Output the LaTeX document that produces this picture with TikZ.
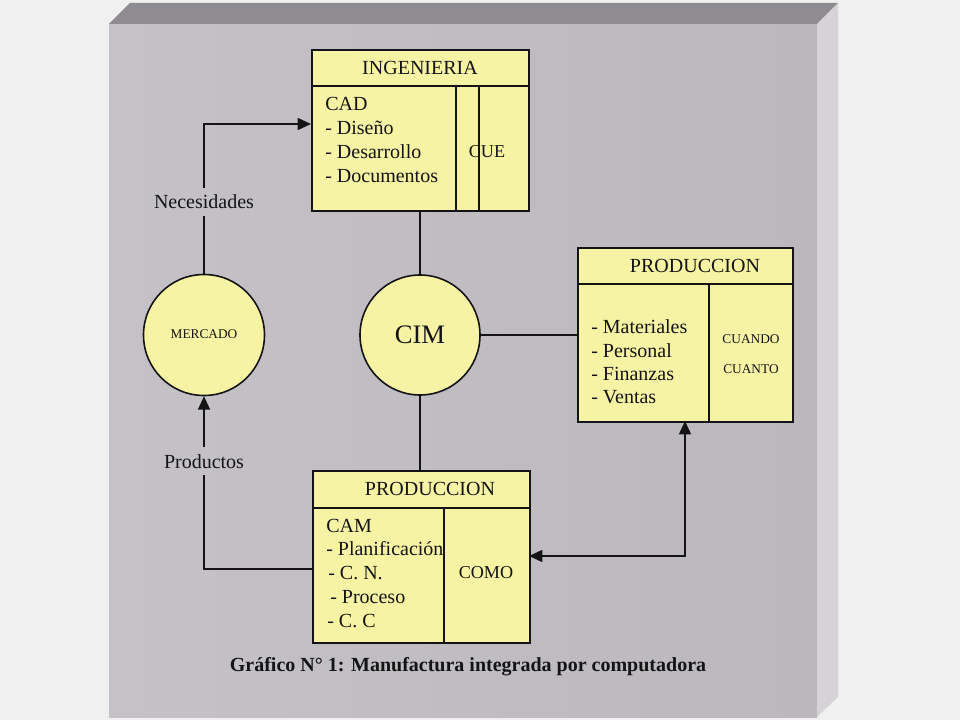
\documentclass[tikz,border=0pt]{standalone}
\usepackage{fontspec}
\setmainfont{Liberation Serif}
\usetikzlibrary{arrows.meta}
\definecolor{outerbg}{RGB}{240,240,240}
\definecolor{panelL}{RGB}{196,194,198}
\definecolor{panelR}{RGB}{186,184,188}
\definecolor{topbev}{RGB}{142,140,144}
\definecolor{rightbev}{RGB}{214,210,214}
\definecolor{boxfill}{RGB}{246,243,165}
\definecolor{ink}{RGB}{20,20,20}
\begin{document}
\begin{tikzpicture}[x=0.75pt,y=-0.75pt,
  box/.style={draw=ink, fill=boxfill, line width=1.2pt, inner sep=0pt, anchor=north west},
  inline/.style={draw=ink, line width=1.2pt},
  circ/.style={circle, draw=ink, fill=boxfill, line width=1.2pt, inner sep=0pt},
  itm/.style={font=\fontsize{15pt}{18pt}\selectfont, text=ink, inner sep=0pt, anchor=base west},
  hdr/.style={font=\fontsize{15pt}{18pt}\selectfont, text=ink, inner sep=0pt, anchor=base},
  small/.style={font=\fontsize{10pt}{12pt}\selectfont, text=ink, inner sep=0pt, anchor=base},
  mid/.style={font=\fontsize{13.6pt}{16pt}\selectfont, text=ink, inner sep=0pt, anchor=base},
  lbl/.style={font=\fontsize{15pt}{18pt}\selectfont, text=ink, inner sep=5pt, anchor=base},
  conn/.style={draw=ink, line width=1.2pt},
  tip/.style={-{Triangle[length=10pt,width=9pt]}},
  tips/.style={{Triangle[length=10pt,width=9pt]}-{Triangle[length=10pt,width=9pt]}}]

% background and 3D panel
\fill[outerbg] (0,0) rectangle (960,720);
\useasboundingbox (0,0) rectangle (960,720);
\shade[left color=panelL, right color=panelR] (109,24) rectangle (817,717);
\fill[topbev] (109,24) -- (130,3) -- (838,3) -- (817,24) -- cycle;
\fill[rightbev] (817,24) -- (838,3) -- (838,697) -- (817,717) -- cycle;

% INGENIERIA box
\node[box, minimum width=217*0.75pt, minimum height=161*0.75pt] (ing) at (311,49) {};
\draw[inline] (311,86) -- (528,86);
\draw[inline] (456,86) -- (456,210);
\draw[inline] (479,86) -- (479,210);
\node[hdr] (ingh) at (420,75) {INGENIERIA};
\node[itm] (cad) at (325,111) {CAD};
\node[itm] (dis) at (325,135) {- Diseño};
\node[itm] (des) at (325,159) {- Desarrollo};
\node[itm] (doc) at (325,183) {- Documentos};
\node[mid] (que) at (487,158) {CUE};

% PRODUCCION right box
\node[box, minimum width=215*0.75pt, minimum height=174*0.75pt] (rp) at (577,247) {};
\draw[inline] (577,284) -- (792,284);
\draw[inline] (709,284) -- (709,421);
\node[hdr] (rph) at (695,273) {PRODUCCION};
\node[itm] (mat) at (591,333) {- Materiales};
\node[itm] (per) at (591,357) {- Personal};
\node[itm] (fin) at (591,380) {- Finanzas};
\node[itm] (ven) at (591,403) {- Ventas};
\node[small] (cuando) at (751,343) {CUANDO};
\node[small] (cuanto) at (751,373) {CUANTO};

% PRODUCCION bottom box
\node[box, minimum width=217*0.75pt, minimum height=172*0.75pt] (bp) at (312,470) {};
\draw[inline] (312,508) -- (529,508);
\draw[inline] (444,508) -- (444,642);
\node[hdr] (bph) at (430,495) {PRODUCCION};
\node[itm] (cam) at (326,532) {CAM};
\node[itm] (pla) at (326,555) {- Planificación};
\node[itm] (cn) at (328,579) {- C. N.};
\node[itm] (pro) at (330,603) {- Proceso};
\node[itm] (cc) at (327,627) {- C. C};
\node[mid] (como) at (486,578) {COMO};

% circles
\node[circ, minimum size=121*0.75pt] (merc) at (204,335) {};
\node[small] at (204,339) {MERCADO};
\node[circ, minimum size=120*0.75pt] (cim) at (420,335) {};
\node[font=\fontsize{20pt}{24pt}\selectfont, text=ink, inner sep=0pt, anchor=base] at (420,343) {CIM};

% labels
\node[lbl] (nec) at (204,209) {Necesidades};
\node[lbl] (prd) at (204,468) {Productos};

% connectors
\coordinate (necin) at (311,124);
\coordinate (prodout) at (312,569);
\coordinate (rpin) at (685,421);
\coordinate (bpin) at (529,556);
\draw[conn] (merc.north) -- (nec.south);
\draw[conn, tip] (nec.north) |- (necin);
\draw[conn] (prodout) -| (prd.south);
\draw[conn, tip] (prd.north) -- (merc.south);
\draw[conn] (cim.north) -- (cim.north |- ing.south);
\draw[conn] (cim.south) -- (cim.south |- bp.north);
\draw[conn] (cim.east) -- (cim.east -| rp.west);
\draw[conn, tips] (rpin) |- (bpin);

% caption
\node[font=\bfseries\fontsize{15pt}{18pt}\selectfont, text=ink, inner sep=0pt, anchor=base] (cap) at (468,671) {Gráfico N° 1: Manufactura integrada por computadora};
\end{tikzpicture}
\end{document}
